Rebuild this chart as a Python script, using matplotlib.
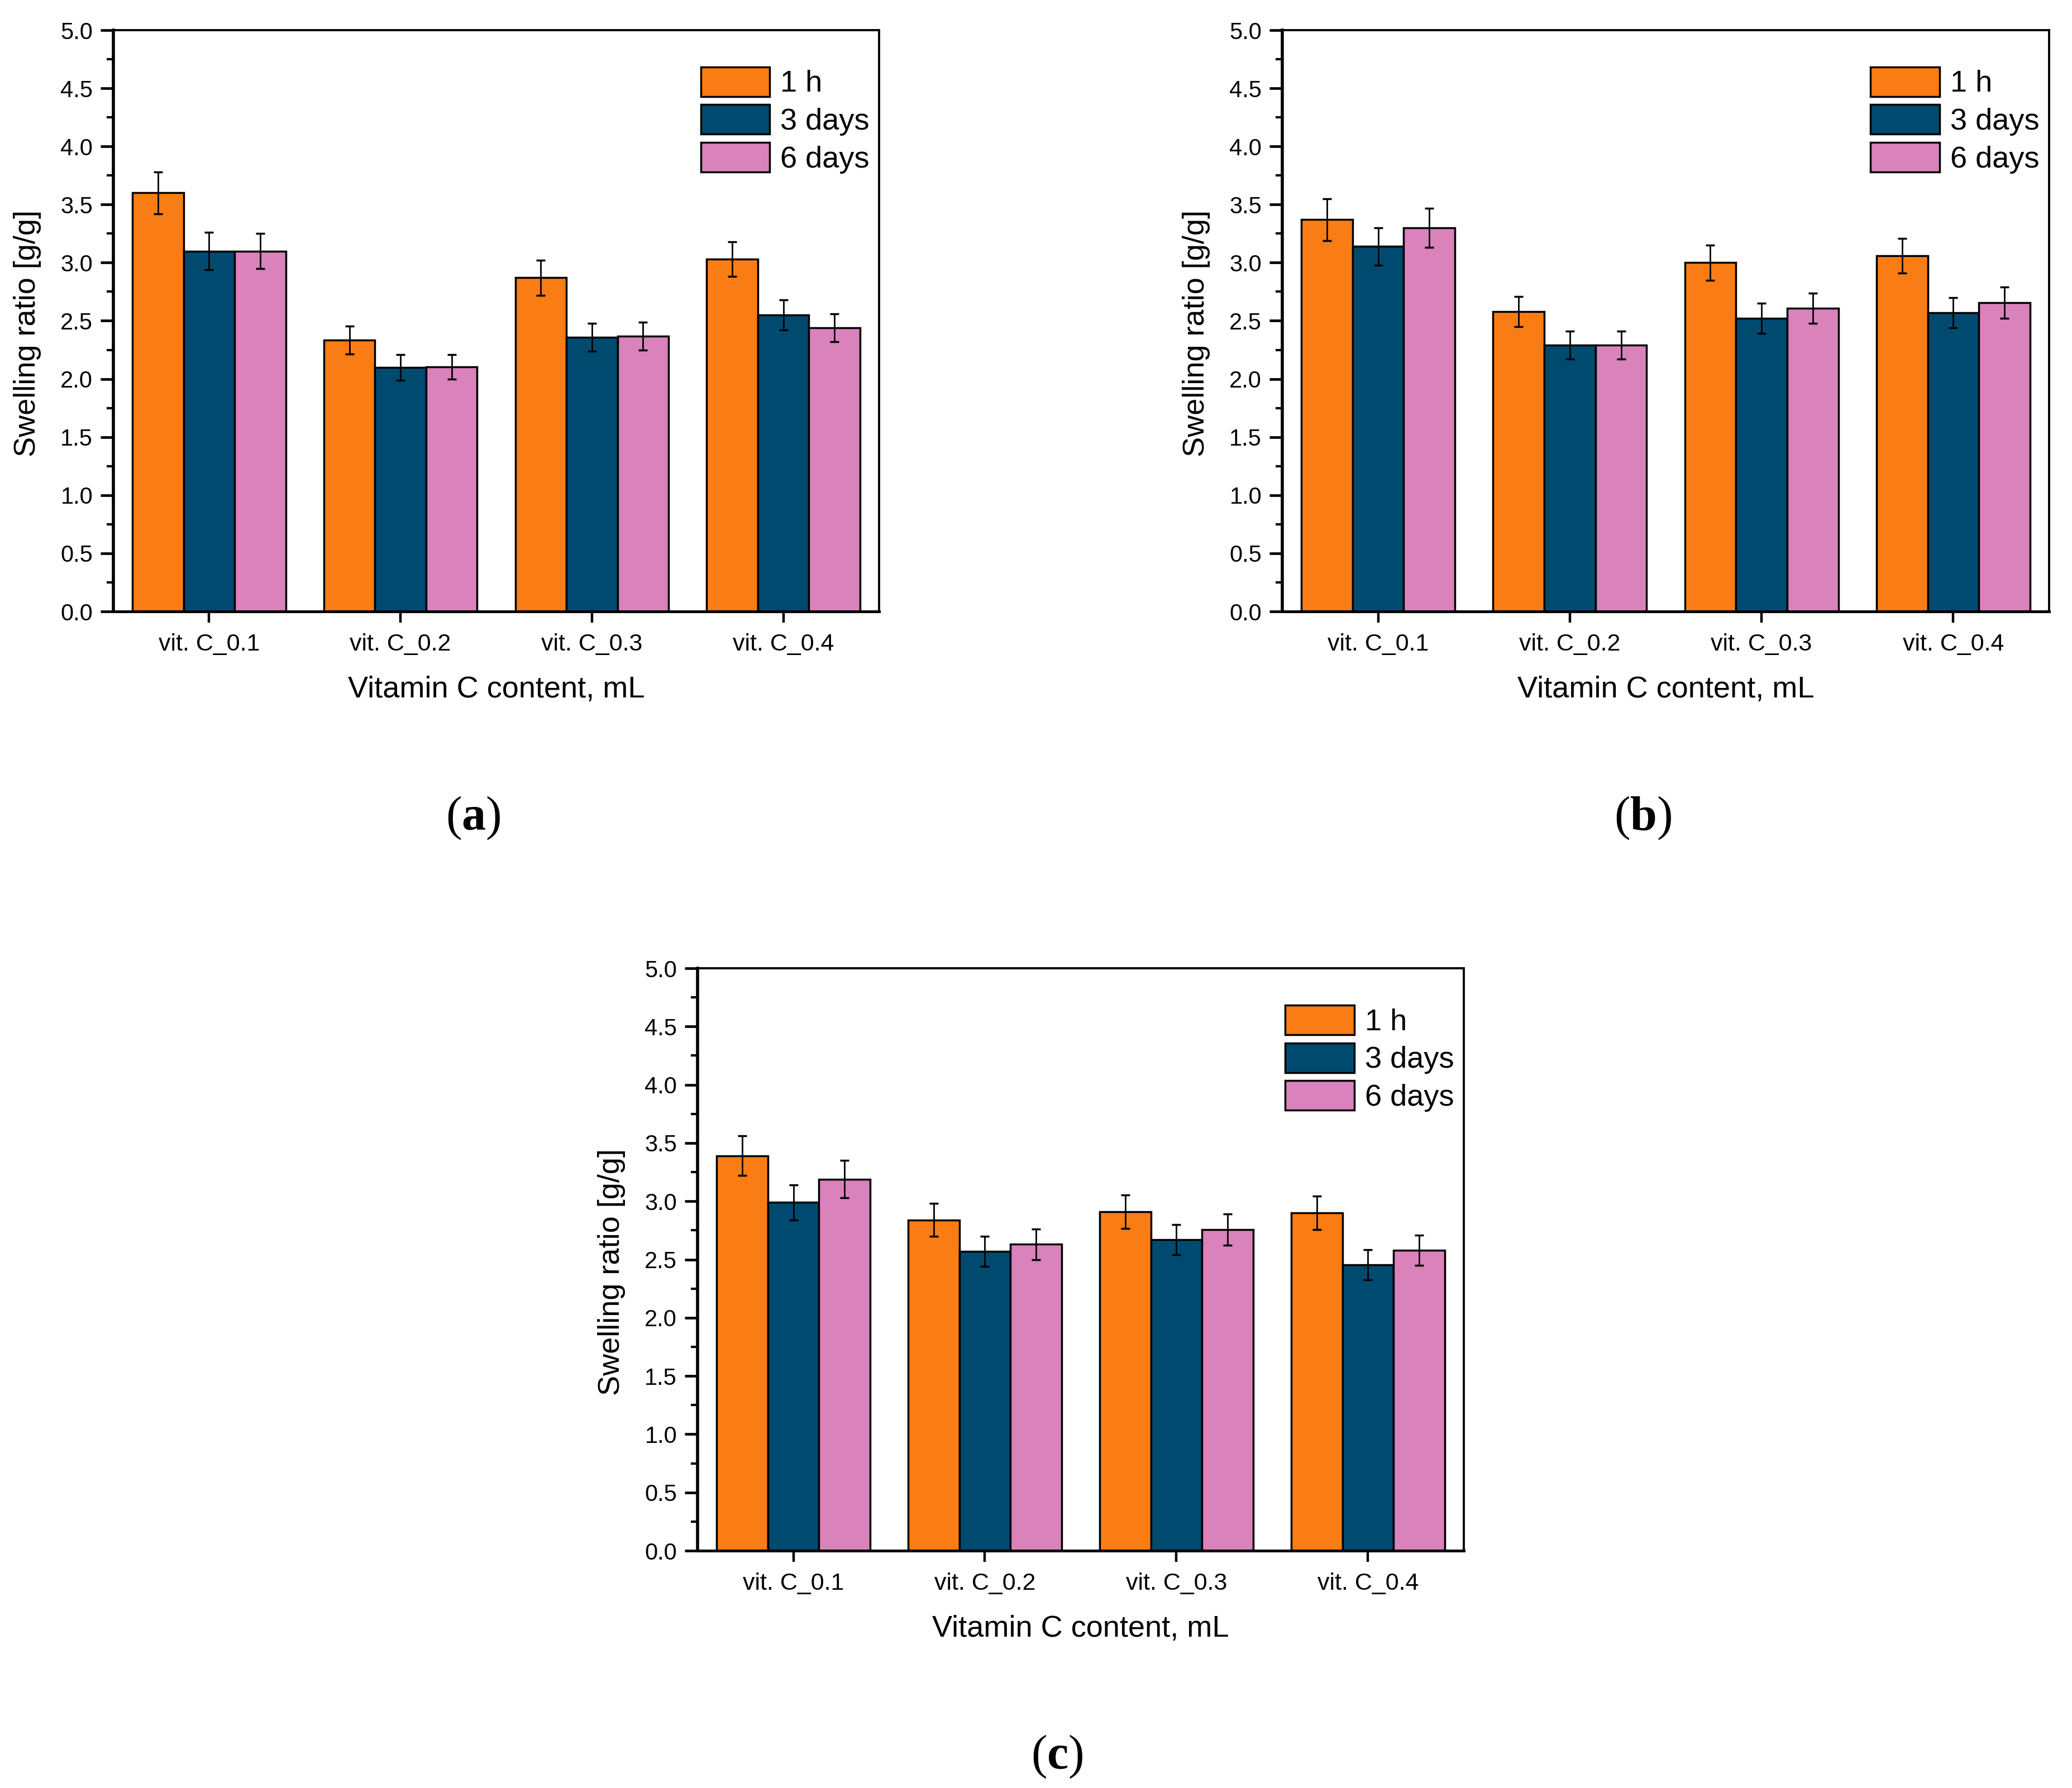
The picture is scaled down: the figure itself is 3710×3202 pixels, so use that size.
import matplotlib
matplotlib.use("Agg")
import matplotlib.pyplot as plt
from matplotlib.ticker import MultipleLocator, AutoMinorLocator

plt.rcParams['font.family'] = ['Liberation Sans', 'DejaVu Sans']
plt.rcParams['mathtext.fontset'] = 'custom'
plt.rcParams['mathtext.rm'] = 'Liberation Serif'
plt.rcParams['mathtext.bf'] = 'Liberation Serif:bold'

# ---------------- data ----------------
categories = ['vit. C_0.1', 'vit. C_0.2', 'vit. C_0.3', 'vit. C_0.4']
series_names = ['1 h', '3 days', '6 days']
colors = ['#F97D14', '#004A70', '#D982BC']

a_1h = [3.60, 2.335, 2.87, 3.03]
a_3d = [3.10, 2.10, 2.36, 2.55]
a_6d = [3.10, 2.105, 2.37, 2.44]
a_err_1h = [0.18, 0.12, 0.15, 0.15]
a_err_3d = [0.16, 0.11, 0.12, 0.13]
a_err_6d = [0.15, 0.105, 0.12, 0.12]

b_1h = [3.37, 2.58, 3.00, 3.06]
b_3d = [3.14, 2.29, 2.52, 2.57]
b_6d = [3.30, 2.29, 2.61, 2.655]
b_err_1h = [0.18, 0.13, 0.15, 0.15]
b_err_3d = [0.16, 0.12, 0.13, 0.13]
b_err_6d = [0.17, 0.12, 0.13, 0.135]

c_1h = [3.39, 2.84, 2.91, 2.90]
c_3d = [2.99, 2.57, 2.67, 2.455]
c_6d = [3.19, 2.63, 2.755, 2.58]
c_err_1h = [0.17, 0.14, 0.145, 0.145]
c_err_3d = [0.15, 0.13, 0.13, 0.13]
c_err_6d = [0.16, 0.13, 0.135, 0.13]

panel_labels = ['a', 'b', 'c']
ylabel = 'Swelling ratio [g/g]'
xlabel = 'Vitamin C content, mL'

W, H = 3710, 3202
fig = plt.figure(figsize=(W / 100, H / 100), dpi=100)

# axes boxes in pixels (left, top, right, bottom)
boxes = [(203, 54, 1574, 1095), (2296, 54, 3669, 1095), (1249, 1734, 2621, 2777)]
caption_pos = [(847, 1465), (2942, 1465), (1893, 3146)]

panels = [
    ([a_1h, a_3d, a_6d], [a_err_1h, a_err_3d, a_err_6d]),
    ([b_1h, b_3d, b_6d], [b_err_1h, b_err_3d, b_err_6d]),
    ([c_1h, c_3d, c_6d], [c_err_1h, c_err_3d, c_err_6d]),
]

bw = 0.267
for k, ((vals, errs), box) in enumerate(zip(panels, boxes)):
    l, t, r, b = box
    ax = fig.add_axes([l / W, 1 - b / H, (r - l) / W, (b - t) / H])
    xs = list(range(1, len(categories) + 1))
    handles = []
    for j, (v, e) in enumerate(zip(vals, errs)):
        pos = [x + (j - 1) * bw for x in xs]
        h = ax.bar(pos, v, width=bw, color=colors[j], edgecolor='black',
                   linewidth=2.5, label=series_names[j], zorder=2)
        handles.append(h)
        ax.errorbar(pos, v, yerr=e, fmt='none', ecolor='black', elinewidth=2.0,
                    capsize=6, capthick=2.5, zorder=3)
    ax.set_xlim(0.5, 4.5)
    ax.set_ylim(0, 5.0)
    ax.set_xticks(xs)
    ax.set_xticklabels(categories, fontsize=31)
    ax.yaxis.set_major_locator(MultipleLocator(0.5))
    ax.yaxis.set_minor_locator(AutoMinorLocator(2))
    ax.set_yticks([i * 0.5 for i in range(11)])
    ax.set_yticklabels(['%.1f' % (i * 0.5) for i in range(11)], fontsize=30)
    ax.tick_params(axis='y', which='major', direction='out', length=16.5, width=3.4, pad=10)
    ax.tick_params(axis='y', which='minor', direction='out', length=8.6, width=3.0)
    ax.tick_params(axis='x', which='major', direction='out', length=14.4, width=3.2, pad=14)
    ax.tick_params(top=False, right=False)
    ax.spines['left'].set_linewidth(4.0)
    ax.spines['bottom'].set_linewidth(3.6)
    ax.spines['top'].set_linewidth(2.8)
    ax.spines['right'].set_linewidth(2.8)
    ax.set_ylabel(ylabel, fontsize=39)
    ax.yaxis.set_label_coords(-0.094, 0.478)
    ax.set_xlabel(xlabel, fontsize=39)
    ax.xaxis.set_label_coords(0.5, -0.11)
    ax.legend(handles=handles, loc='upper left', bbox_to_anchor=(0.767, 0.937),
              frameon=False, fontsize=39, handlelength=2.28, handleheight=1.13,
              labelspacing=0.22, handletextpad=0.35, borderpad=0, borderaxespad=0)
    cx, cy = caption_pos[k]
    fig.text(cx / W, 1 - cy / H, r'($\mathbf{%s}$)' % panel_labels[k],
             fontsize=62, family='Liberation Serif', ha='center', va='center')

fig.savefig('out.png', dpi=100)
